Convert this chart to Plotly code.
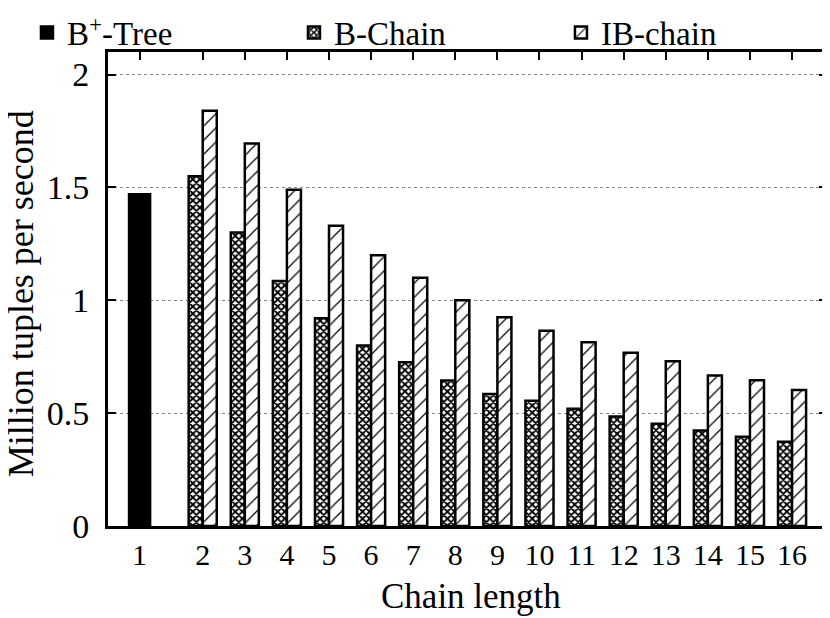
import plotly.graph_objects as go

# chain length categories (1 is the plain B+-Tree)
chain_len = ["1", "2", "3", "4", "5", "6", "7", "8", "9", "10", "11", "12", "13", "14", "15", "16"]
# x positions of each cluster on the axis (cluster 1 sits apart from the rest)
cluster_pos = [0.5, 2, 3, 4, 5, 6, 7, 8, 9, 10, 11, 12, 13, 14, 15, 16]

btree = [1.47]
bchain = [1.55, 1.30, 1.085, 0.92, 0.80, 0.725, 0.645, 0.585, 0.555,
          0.52, 0.485, 0.453, 0.423, 0.395, 0.373]
ibchain = [1.84, 1.695, 1.49, 1.33, 1.20, 1.10, 1.00, 0.925, 0.865,
           0.814, 0.768, 0.73, 0.667, 0.646, 0.602]

FONT = "Liberation Serif, Times New Roman, Times, serif"

fig = go.Figure()

fig.add_trace(go.Bar(
    name="B<sup>+</sup>-Tree", x=cluster_pos[:1], y=btree, width=0.5,
    marker=dict(color="black", line=dict(color="black", width=2.5)),
))
fig.add_trace(go.Bar(
    name="B-Chain", x=cluster_pos[1:], y=bchain, width=1/3, offset=-1/3,
    marker=dict(color="white", line=dict(color="black", width=2.5),
                pattern=dict(shape="x", size=5, solidity=0.6,
                             fgcolor="black", bgcolor="white", fillmode="replace")),
))
fig.add_trace(go.Bar(
    name="IB-chain", x=cluster_pos[1:], y=ibchain, width=1/3, offset=0,
    marker=dict(color="white", line=dict(color="black", width=2.5),
                pattern=dict(shape="/", size=10, solidity=0.12,
                             fgcolor="black", bgcolor="white", fillmode="replace")),
))

# the page body adds an 8px margin, so the figure is a bit smaller than the window
fig.update_layout(
    width=822, height=610,
    margin=dict(l=100, r=3, t=44, b=92, autoexpand=False),
    paper_bgcolor="white", plot_bgcolor="white",
    barmode="overlay",
    font=dict(family=FONT, size=30, color="black"),
    legend=dict(orientation="h", x=-0.1127, y=1.1, xanchor="left", yanchor="top",
                entrywidth=222, entrywidthmode="pixels",
                font=dict(family=FONT, size=33), bgcolor="rgba(0,0,0,0)"),
    showlegend=True,
)

# axis titles as annotations so they sit exactly where the reference has them
fig.add_annotation(text="Chain length", xref="paper", yref="paper",
                   x=0.505, y=-0.148, xanchor="center", yanchor="middle",
                   showarrow=False, font=dict(family=FONT, size=35))
fig.add_annotation(text="Million tuples per second", xref="paper", yref="paper",
                   x=-0.1215, y=0.4905, xanchor="center", yanchor="middle",
                   textangle=-90, showarrow=False, font=dict(family=FONT, size=36))

fig.update_xaxes(
    range=[-0.25, 16.83],
    tickvals=cluster_pos, ticktext=chain_len,
    ticks="inside", ticklen=8, tickwidth=2, tickcolor="black",
    showline=True, linewidth=3, linecolor="black", mirror="ticks",
    showgrid=False, zeroline=False, automargin=False,
    tickfont=dict(size=30), ticklabelstandoff=0,
)
fig.update_yaxes(
    range=[0, 2.1], dtick=0.5, tick0=0,
    ticks="inside", ticklen=8, tickwidth=2, tickcolor="black",
    showline=True, linewidth=3, linecolor="black", mirror="ticks",
    showgrid=True, gridcolor="#888888", griddash="dot", gridwidth=1,
    zeroline=False, automargin=False,
    tickfont=dict(size=34), ticklabelstandoff=9,
)

fig.write_html("out.html")
